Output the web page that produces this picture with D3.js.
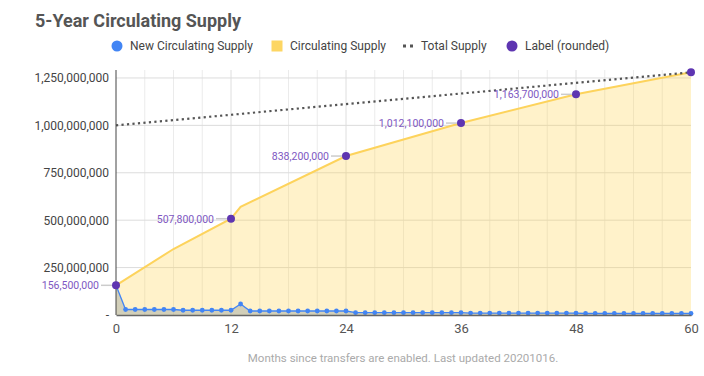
<!DOCTYPE html>
<html>
<head>
<meta charset="utf-8">
<script src="https://cdn.jsdelivr.net/npm/d3@7"></script>
<style>
  body { margin: 0; background: #fff; }
  svg { font-family: Roboto, "Noto Sans", sans-serif; }
</style>
</head>
<body>
<div id="chart"></div>
<script>
// ---- data (millions) ----
const newMonths = [0,1,2,3,4,5,6,7,8,9,10,11,12,13,14,15,16,17,18,19,20,21,22,23,24,
  25,26,27,28,29,30,31,32,33,34,35,36,37,38,39,40,41,42,43,44,45,46,47,48,
  49,50,51,52,53,54,55,56,57,58,59,60];
const newSupply = [156.5,
  29,29,29,29,29,29,
  25,25,25,25,25,25,
  58,
  21,21,21,21,21,21,21,21,21,21,21,
  12,12,12,12,12,12,12,12,12,12,12,12,
  10,10,10,10,10,10,10,10,10,10,10,10,
  8,8,8,8,8,8,8,8,8,8,8,8];

const circMonths = [0, 6, 12, 13, 24, 36, 48, 60];
const circSupply = [156.5, 348, 507.8, 570, 838.2, 1012.1, 1163.7, 1280];

const totalMonths = [0, 60];
const totalSupply = [1000, 1280];

const labelMonths = [0, 12, 24, 36, 48, 60];
const labelValues = [156.5, 507.8, 838.2, 1012.1, 1163.7, 1280];
const labelTexts = ["156,500,000", "507,800,000", "838,200,000", "1,012,100,000", "1,163,700,000", ""];

const yTicks = [0, 250, 500, 750, 1000, 1250];
const xTicks = [0, 12, 24, 36, 48, 60];

// ---- layout ----
const width = 704, height = 376;
const svg = d3.select("#chart").append("svg")
  .attr("width", width).attr("height", height);

const x = d3.scaleLinear().domain([0, 60]).range([116, 691]);
const y = d3.scaleLinear().domain([0, 1292]).range([315, 70]);

// title
svg.append("text")
  .attr("x", 35).attr("y", 27)
  .attr("font-size", 18).attr("font-weight", "bold")
  .attr("fill", "#555")
  .attr("textLength", 206).attr("lengthAdjust", "spacingAndGlyphs")
  .text("5-Year Circulating Supply");

// legend
const legend = svg.append("g").attr("font-size", 12).attr("fill", "#444");
const legItems = [
  { name: "New Circulating Supply", type: "circle", color: "#4285f4", x: 117 },
  { name: "Circulating Supply", type: "square", color: "#fdd663", x: 277 },
  { name: "Total Supply", type: "dots", color: "#555", x: 408 },
  { name: "Label (rounded)", type: "circle", color: "#5e35b1", x: 512 }
];
legItems.forEach(d => {
  const ly = 46;
  if (d.type === "circle") {
    legend.append("circle").attr("cx", d.x).attr("cy", ly).attr("r", 5.5).attr("fill", d.color);
  } else if (d.type === "square") {
    legend.append("rect").attr("x", d.x - 5.5).attr("y", ly - 5.5)
      .attr("width", 11).attr("height", 11).attr("fill", d.color);
  } else {
    legend.append("rect").attr("x", d.x - 5).attr("y", ly - 1.5).attr("width", 3).attr("height", 3).attr("fill", d.color);
    legend.append("rect").attr("x", d.x + 2).attr("y", ly - 1.5).attr("width", 3).attr("height", 3).attr("fill", d.color);
  }
  legend.append("text").attr("x", d.x + 13).attr("y", ly + 4).text(d.name);
});

// gridlines
const grid = svg.append("g");
grid.selectAll(".vgrid")
  .data(d3.range(3, 60, 3))
  .join("line")
  .attr("x1", d => x(d)).attr("x2", d => x(d))
  .attr("y1", 70).attr("y2", 315)
  .attr("stroke", d => d % 12 === 0 ? "#dedede" : "#ebebeb")
  .attr("stroke-width", 1);
grid.selectAll(".hgrid")
  .data(yTicks.slice(1))
  .join("line")
  .attr("x1", 116).attr("x2", 691)
  .attr("y1", d => y(d)).attr("y2", d => y(d))
  .attr("stroke", "#dcdcdc");

// circulating supply area
const circData = circMonths.map((m, i) => ({ m, v: circSupply[i] }));
svg.append("path")
  .datum(circData)
  .attr("fill", "#ffd54f").attr("fill-opacity", 0.3)
  .attr("d", d3.area().x(d => x(d.m)).y0(y(0)).y1(d => y(d.v)));

// new supply area
const newData = newMonths.map((m, i) => ({ m, v: newSupply[i] }));
svg.append("path")
  .datum(newData)
  .attr("fill", "#8e9aa0").attr("fill-opacity", 0.4)
  .attr("d", d3.area().x(d => x(d.m)).y0(y(0)).y1(d => y(d.v)));

// circulating line
svg.append("path")
  .datum(circData)
  .attr("fill", "none").attr("stroke", "#fdd35c").attr("stroke-width", 2)
  .attr("d", d3.line().x(d => x(d.m)).y(d => y(d.v)));

// total supply dotted line
const totalData = totalMonths.map((m, i) => ({ m, v: totalSupply[i] }));
svg.append("path")
  .datum(totalData)
  .attr("fill", "none").attr("stroke", "#555").attr("stroke-width", 2.2)
  .attr("stroke-dasharray", "2.2,3.3")
  .attr("d", d3.line().x(d => x(d.m)).y(d => y(d.v)));

// new supply line + dots
svg.append("path")
  .datum(newData)
  .attr("fill", "none").attr("stroke", "#4285f4").attr("stroke-width", 1.3)
  .attr("d", d3.line().x(d => x(d.m)).y(d => y(d.v)));
svg.selectAll(".nd")
  .data(newData.slice(1))
  .join("circle")
  .attr("cx", d => x(d.m)).attr("cy", d => y(d.v))
  .attr("r", 2.4).attr("fill", "#4285f4");

// axes
const yAxis = svg.append("g")
  .attr("transform", "translate(116,0)")
  .call(d3.axisLeft(y).tickValues(yTicks).tickSize(0).tickPadding(7)
    .tickFormat(d => d === 0 ? "-" : d3.format(",")(d * 1e6)));
yAxis.select(".domain").attr("stroke", "#444").attr("d", "M0,70V315");
yAxis.selectAll("text").attr("font-size", 12).attr("fill", "#444")
  .attr("font-family", "Roboto, sans-serif");

const xAxis = svg.append("g")
  .attr("transform", "translate(0,315)")
  .call(d3.axisBottom(x).tickValues(xTicks).tickSize(0).tickPadding(9));
xAxis.select(".domain").attr("stroke", "#666").attr("stroke-width", 1.5);
xAxis.selectAll("text").attr("font-size", 13).attr("fill", "#555")
  .attr("font-family", "Roboto, sans-serif");

// labels
const labData = labelMonths.map((m, i) => ({ m, v: labelValues[i], t: labelTexts[i] }));
const lab = svg.append("g");
lab.selectAll("line")
  .data(labData.filter(d => d.t))
  .join("line")
  .attr("x1", d => x(d.m) - 15).attr("x2", d => x(d.m) - 4)
  .attr("y1", d => y(d.v)).attr("y2", d => y(d.v))
  .attr("stroke", "#ccc").attr("stroke-width", 1.5);
lab.selectAll("text")
  .data(labData.filter(d => d.t))
  .join("text")
  .attr("x", d => x(d.m) - 17).attr("y", d => y(d.v) + 3.8)
  .attr("text-anchor", "end")
  .attr("font-size", 10.5).attr("fill", "#7e57c2")
  .text(d => d.t);
lab.selectAll("circle")
  .data(labData)
  .join("circle")
  .attr("cx", d => x(d.m)).attr("cy", d => y(d.v))
  .attr("r", 4).attr("fill", "#5e35b1");

// footer
svg.append("text")
  .attr("x", 403).attr("y", 362)
  .attr("text-anchor", "middle")
  .attr("font-size", 11.5).attr("fill", "#aaa")
  .text("Months since transfers are enabled. Last updated 20201016.");
</script>
</body>
</html>
